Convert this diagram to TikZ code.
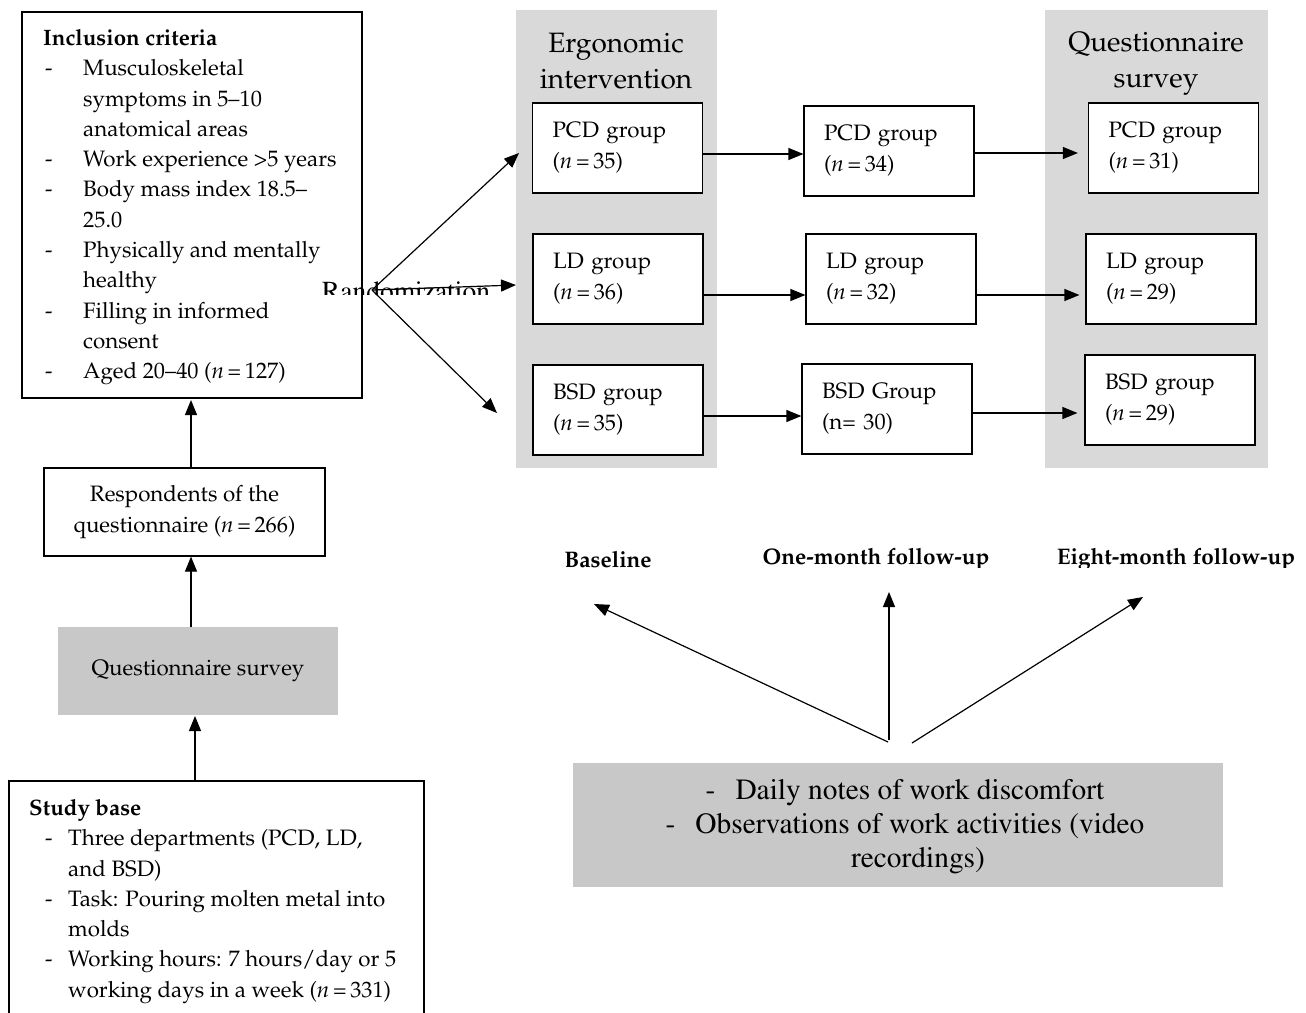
\documentclass[tikz,border=0pt]{standalone}
\usepackage[T1]{fontenc}
\usepackage{mathpazo}
\usetikzlibrary{arrows.meta}
\definecolor{colgrey}{RGB}{217,217,217}
\definecolor{boxgrey}{RGB}{200,200,200}
\newcommand{\bodyfont}{\fontsize{22.3}{31}\selectfont}
\newcommand{\timesf}{\fontfamily{ptm}\selectfont}
\newcommand{\nn}[1]{\textit{n}\,=\,#1}
\tikzset{
  ln/.style={line width=1.2pt},
  arr/.style={ln,-{Triangle[length=15pt,width=12pt]}},
  gbox/.style={draw,ln,fill=white,minimum width=170pt,minimum height=90pt,text width=130pt,inner xsep=20pt,align=left,font=\bodyfont},
  colbg/.style={fill=colgrey,draw=none},
  lab/.style={font=\bfseries\fontsize{22.5}{26}\selectfont},
}
\begin{document}
\begin{tikzpicture}[x=1pt,y=-1pt]
\clip (0,0) rectangle (1306,1012);
\fill[white] (0,0) rectangle (1306,1012);
% columns
\fill[colbg] (516,10) rectangle (717,468);
\fill[colbg] (1045,10) rectangle (1268,468);
\node[font=\fontsize{28}{36}\selectfont,align=center] (ergtitle) at (616,61) {Ergonomic\\intervention};
\node[font=\fontsize{28}{36}\selectfont,align=center] (qstitle) at (1156,64) {Questionnaire\\survey};
% inclusion criteria
\draw[ln] (22,12) rectangle (362,398);
\node[anchor=north west,inner sep=0,font=\fontsize{22.3}{30.3}\selectfont] (inc) at (43,24) {%
\begin{tabular}{@{}p{40pt}@{}l@{}}
\multicolumn{2}{@{}l}{\bfseries Inclusion criteria}\\
\hspace*{2pt}- & Musculoskeletal\\
 & symptoms in 5--10\\
 & anatomical areas\\
\hspace*{2pt}- & Work experience >5 years\\
\hspace*{2pt}- & Body mass index 18.5--\\
 & 25.0\\
\hspace*{2pt}- & Physically and mentally\\
 & healthy\\
\hspace*{2pt}- & Filling in informed\\
 & consent\\
\hspace*{2pt}- & Aged 20--40 (\nn{127})
\end{tabular}};
\coordinate (incS) at (191,400);
% respondents
\node[draw,ln,minimum width=281pt,minimum height=88pt,align=center,font=\bodyfont] (resp) at (184.5,512) {Respondents of the\\questionnaire (\nn{266})};
% questionnaire survey
\node[fill=boxgrey,minimum width=280pt,minimum height=88pt,font=\bodyfont] (qs) at (198,671) {Questionnaire survey};
% study base
\draw[ln] (9,1030) -- (9,781) -- (424,781) -- (424,1030);
\node[anchor=north west,inner sep=0,font=\fontsize{22.3}{30.3}\selectfont] (sb) at (29,794) {%
\begin{tabular}{@{}p{39pt}@{}l@{}}
\multicolumn{2}{@{}l}{\bfseries Study base}\\
\hspace*{16pt}- & Three departments (PCD, LD,\\
 & and BSD)\\
\hspace*{16pt}- & Task: Pouring molten metal into\\
 & molds\\
\hspace*{16pt}- & Working hours: 7 hours/day or 5\\
 & working days in a week (\nn{331})
\end{tabular}};
\coordinate (sbN) at (195,780);
% vertical arrows left
\draw[arr] (resp.north -| incS) -- (incS);
\draw[arr] (qs.north -| incS) -- (resp.south -| incS);
\draw[arr] (sbN) -- (195,716);
% groups
\node[gbox] (pcd1) at (617.5,148) {PCD group\\(\nn{35})};
\node[gbox] (ld1) at (618,279) {LD group\\(\nn{36})};
\node[gbox] (bsd1) at (618,410) {BSD group\\(\nn{35})};
\node[gbox] (pcd2) at (889,151) {PCD group\\(\nn{34})};
\node[gbox] (ld2) at (891,279) {LD group\\(\nn{32})};
\node[gbox] (bsd2) at (887,409) {BSD Group\\(n= 30)};
\node[gbox] (pcd3) at (1173.5,148) {PCD group\\(\nn{31})};
\node[gbox] (ld3) at (1171,279) {LD group\\(\nn{29})};
\node[gbox] (bsd3) at (1170,400) {BSD group\\(\nn{29})};
% arrows between groups
\draw[arr] (702,154) -- (pcd2.west |- 0,154);
\draw[arr] (702,295) -- (ld2.west |- 0,295);
\draw[arr] (703,416) -- (bsd2.west |- 0,416);
\draw[arr,shorten >=10pt] (974,153) -- (pcd3.west |- 0,153);
\draw[arr,shorten >=6pt] (976,295) -- (ld3.west |- 0,295);
\draw[arr,shorten >=7pt] (972,413) -- (bsd3.west |- 0,413);
% randomization
\begin{scope}
\clip (300,260) rectangle (520,294);
\node[font=\timesf\fontsize{27.5}{30}\selectfont] (rand) at (406,291) {Randomization};
\end{scope}
\coordinate (rO) at (372,290);
\draw[arr] (rO) -- (519,153);
\draw[arr] (rO) -- (516,285);
\draw[arr] (rO) -- (497,413);
% time labels
\begin{scope}
\clip (500,540) rectangle (1306,567);
\node[lab] (base) at (608,559) {Baseline};
\node[lab] (one) at (876,559) {One-month follow-up};
\node[lab] (eight) at (1176,559) {Eight-month follow-up};
\end{scope}
% daily notes
\node[fill=boxgrey,minimum width=650pt,minimum height=124pt,inner sep=0] (notes) at (898,825) {};
\node[font=\timesf\fontsize{29.4}{34}\selectfont,align=center] (notestext) at (905,827) {-\hspace{20pt}Daily notes of work discomfort\\
-\hspace{20pt}Observations of work activities (video\\
\hspace*{26pt}recordings)};
\coordinate (n1) at (888,742);
\coordinate (n2) at (889,740);
\coordinate (n3) at (912,743);
\draw[arr] (n1) -- (594,604);
\draw[arr] (n2) -- (889,592);
\draw[arr] (n3) -- (1143,597);
\end{tikzpicture}
\end{document}
